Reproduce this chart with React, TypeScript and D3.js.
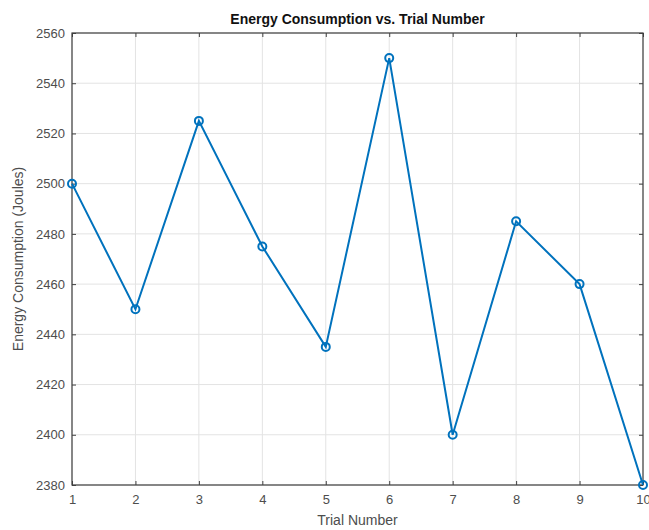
import { useEffect, useRef } from 'react'
import * as d3 from 'd3'

// values
const trials = [1, 2, 3, 4, 5, 6, 7, 8, 9, 10]
const energy = [2500, 2450, 2525, 2475, 2435, 2550, 2400, 2485, 2460, 2380]
const yTicks = [2380, 2400, 2420, 2440, 2460, 2480, 2500, 2520, 2540, 2560]

const LINE = '#0072BD'
const AXIS = '#404040'
const TICK_TEXT = '#4d4d4d'

export default function App() {
  const svgRef = useRef<SVGSVGElement | null>(null)

  useEffect(() => {
    const el = svgRef.current
    if (!el) return
    const width = 649
    const height = 530
    const margin = { top: 33, right: 6, bottom: 45, left: 72 }
    const innerW = width - margin.left - margin.right
    const innerH = height - margin.top - margin.bottom

    d3.select(el).selectAll('*').remove()
    const svg = d3.select(el).attr('width', width).attr('height', height)
    svg.append('rect').attr('width', width).attr('height', height).attr('fill', '#fff')

    const g = svg.append('g').attr('transform', `translate(${margin.left},${margin.top})`)

    const x = d3.scaleLinear().domain([1, 10]).range([0, innerW])
    const y = d3.scaleLinear().domain([2380, 2560]).range([innerH, 0])

    // grid
    g.append('g')
      .selectAll('line')
      .data(trials)
      .join('line')
      .attr('x1', (d) => x(d)).attr('x2', (d) => x(d))
      .attr('y1', 0).attr('y2', innerH)
      .attr('stroke', '#e3e3e3').attr('stroke-width', 1)
    g.append('g')
      .selectAll('line')
      .data(yTicks)
      .join('line')
      .attr('y1', (d) => y(d)).attr('y2', (d) => y(d))
      .attr('x1', 0).attr('x2', innerW)
      .attr('stroke', '#e3e3e3').attr('stroke-width', 1)

    const styleAxis = (ax: d3.Selection<SVGGElement, unknown, null, undefined>) => {
      ax.select('.domain').remove()
      ax.selectAll('line').attr('stroke', AXIS)
      ax.selectAll('text')
        .attr('fill', TICK_TEXT)
        .style('font-family', 'Arial, "Liberation Sans", sans-serif')
        .style('font-size', '13px')
    }

    // bottom and left axes with inward ticks
    g.append('g')
      .attr('transform', `translate(0,${innerH})`)
      .call(d3.axisBottom(x).tickValues(trials).tickSize(-4).tickPadding(10).tickFormat(d3.format('d')))
      .call(styleAxis)
    g.append('g')
      .call(d3.axisLeft(y).tickValues(yTicks).tickSize(-4).tickPadding(7).tickFormat(d3.format('d')))
      .call(styleAxis)
    // top and right ticks without labels
    g.append('g')
      .call(d3.axisTop(x).tickValues(trials).tickSize(-4).tickFormat(() => ''))
      .call(styleAxis)
    g.append('g')
      .attr('transform', `translate(${innerW},0)`)
      .call(d3.axisRight(y).tickValues(yTicks).tickSize(-4).tickFormat(() => ''))
      .call(styleAxis)

    // box
    g.append('rect')
      .attr('width', innerW).attr('height', innerH)
      .attr('fill', 'none').attr('stroke', AXIS).attr('stroke-width', 1.2)

    const line = d3.line<number>().x((_, i) => x(trials[i])).y((d) => y(d))
    g.append('path')
      .datum(energy)
      .attr('d', line)
      .attr('fill', 'none')
      .attr('stroke', LINE)
      .attr('stroke-width', 2)

    g.append('g')
      .selectAll('circle')
      .data(energy)
      .join('circle')
      .attr('cx', (_, i) => x(trials[i]))
      .attr('cy', (d) => y(d))
      .attr('r', 4)
      .attr('fill', 'none')
      .attr('stroke', LINE)
      .attr('stroke-width', 2)

    // title and labels
    svg.append('text')
      .attr('x', margin.left + innerW / 2)
      .attr('y', 24)
      .attr('text-anchor', 'middle')
      .attr('fill', '#111')
      .style('font-family', 'Arial, "Liberation Sans", sans-serif')
      .style('font-size', '14px')
      .style('font-weight', 'bold')
      .text('Energy Consumption vs. Trial Number')

    svg.append('text')
      .attr('x', margin.left + innerW / 2)
      .attr('y', 525)
      .attr('text-anchor', 'middle')
      .attr('fill', TICK_TEXT)
      .style('font-family', 'Arial, "Liberation Sans", sans-serif')
      .style('font-size', '14px')
      .text('Trial Number')

    svg.append('text')
      .attr('transform', `translate(23,${margin.top + innerH / 2}) rotate(-90)`)
      .attr('text-anchor', 'middle')
      .attr('fill', TICK_TEXT)
      .style('font-family', 'Arial, "Liberation Sans", sans-serif')
      .style('font-size', '14px')
      .text('Energy Consumption (Joules)')
  }, [])

  return (
    <div style={{ position: 'absolute', left: 0, top: 0, width: 649, height: 530 }}>
      <svg ref={svgRef} style={{ display: 'block' }} />
    </div>
  )
}
